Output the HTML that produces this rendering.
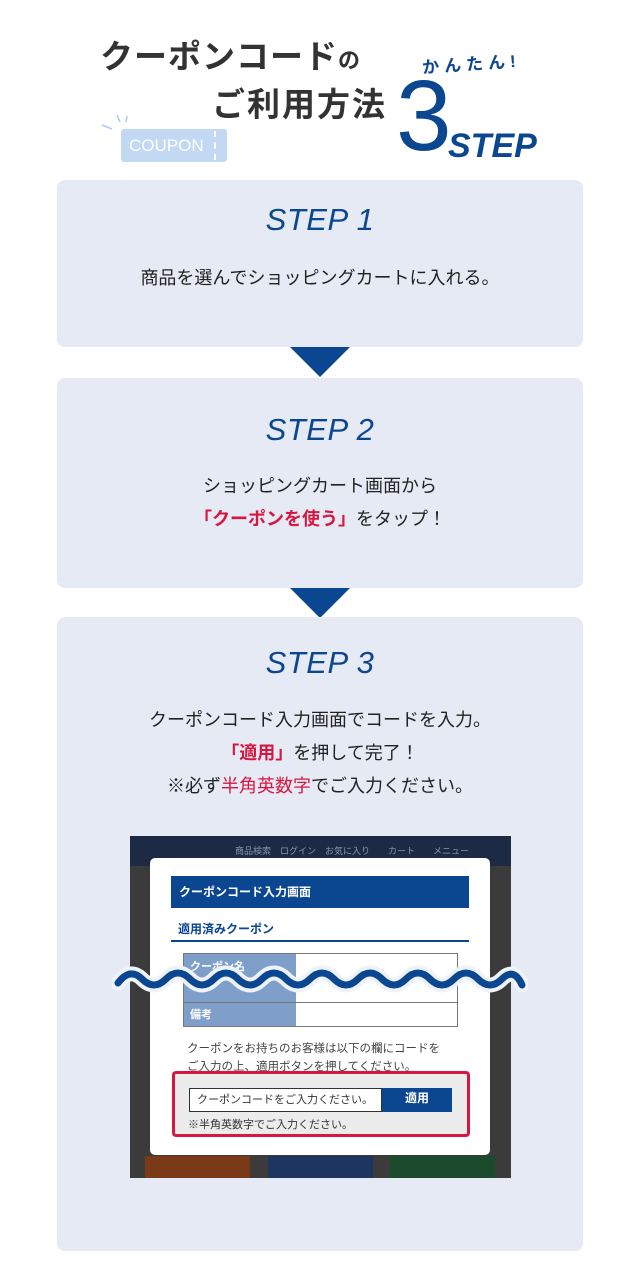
<!DOCTYPE html>
<html><head><meta charset="utf-8"><style>
*{margin:0;padding:0;box-sizing:border-box}
body{width:640px;height:1280px;background:#fff;position:relative;overflow:hidden;font-family:"Liberation Sans","Noto Sans CJK JP",sans-serif;color:#222}
.abs{position:absolute}
.card{position:absolute;left:57px;width:526px;background:#e5eaf4;border-radius:8px}
.step{position:absolute;left:0;width:100%;text-align:center;font-style:italic;color:#0b4691;font-size:31px;letter-spacing:0.5px}
.txt{position:absolute;left:0;width:100%;text-align:center;font-size:18px;line-height:33px;color:#222}
.red{color:#d9163f;font-weight:bold}
.tri{position:absolute;left:290px;width:0;height:0;border-left:30px solid transparent;border-right:30px solid transparent;border-top:30px solid #0b4691}
</style></head><body>
<div class="abs" style="left:100px;top:30px;font-size:33px;font-weight:bold;color:#333;letter-spacing:1px">クーポンコード<span style="font-size:22px">の</span></div>
<div class="abs" style="left:212px;top:78px;font-size:33px;font-weight:bold;color:#333;letter-spacing:2px">ご利用方法</div>
<div class="abs" style="left:422px;top:50px;font-size:17px;font-weight:bold;color:#0b4691;letter-spacing:5px;transform:rotate(-4deg)">かんたん!</div>
<div class="abs" style="left:396px;top:66px;font-size:100px;color:#0b4691;line-height:100px;font-weight:500">3</div>
<div class="abs" style="left:448px;top:127px;font-size:34px;color:#0b4691;font-weight:bold;font-style:italic">STEP</div>
<div class="abs" style="left:121px;top:129px;width:106px;height:33px;background:#c3d8f2;border-radius:3px;color:#fff;font-size:17px;line-height:33px;padding-left:8px">COUPON</div>
<div class="abs" style="left:214px;top:131px;height:29px;border-left:2px dashed #fff"></div>
<svg class="abs" style="left:100px;top:112px" width="30" height="30"><g stroke="#a9c9ee" stroke-width="1.5"><line x1="2" y1="13" x2="12" y2="17"/><line x1="17" y1="3" x2="20" y2="10"/><line x1="27" y1="4" x2="26" y2="10"/></g></svg>

<div class="card" style="top:180px;height:167px">
<div class="step" style="top:22px">STEP 1</div>
<div class="txt" style="top:82px">商品を選んでショッピングカートに入れる。</div>
</div>
<div class="tri" style="top:347px"></div>
<div class="card" style="top:378px;height:210px">
<div class="step" style="top:34px">STEP 2</div>
<div class="txt" style="top:92px">ショッピングカート画面から<br><span class="red">「クーポンを使う」</span>をタップ！</div>
</div>
<div class="tri" style="top:588px"></div>
<div class="card" style="top:617px;height:634px">
<div class="step" style="top:28px">STEP 3</div>
<div class="txt" style="top:87px">クーポンコード入力画面でコードを入力。<br><span class="red">「適用」</span>を押して完了！<br>※必ず<span style="color:#d9163f">半角英数字</span>でご入力ください。</div>
</div>

<div class="abs" style="left:130px;top:836px;width:381px;height:342px;background:#3b3b3b;overflow:hidden">
<div class="abs" style="left:0;top:0;width:381px;height:30px;background:#1d2a44"></div>
<div class="abs" style="left:105px;top:8px;font-size:9px;color:#8895ad;word-spacing:8px;white-space:nowrap">商品検索　ログイン　お気に入り　　カート　　メニュー</div>
<div class="abs" style="left:15px;top:320px;width:105px;height:22px;background:#7a3a18"></div>
<div class="abs" style="left:138px;top:320px;width:105px;height:22px;background:#1d3560"></div>
<div class="abs" style="left:260px;top:320px;width:105px;height:22px;background:#1c4a2c"></div>
<div class="abs" style="left:20px;top:22px;width:340px;height:297px;background:#fff;border-radius:5px">
<div class="abs" style="left:21px;top:18px;width:298px;height:32px;background:#0b4691;color:#fff;font-size:12px;font-weight:bold;line-height:32px;padding-left:8px">クーポンコード入力画面</div>
<div class="abs" style="left:28px;top:62px;font-size:12px;font-weight:bold;color:#0b4691">適用済みクーポン</div>
<div class="abs" style="left:21px;top:82px;width:298px;height:2px;background:#0b4691"></div>
<div class="abs" style="left:33px;top:95px;width:275px;height:74px;border:1px solid #777;background:#fff"></div>
<div class="abs" style="left:34px;top:96px;width:112px;height:72px;background:#7e9fc9"></div>
<div class="abs" style="left:34px;top:144px;width:274px;height:1px;background:#777"></div>
<div class="abs" style="left:40px;top:148px;font-size:11px;color:#fff;font-weight:bold">備考</div>
<div class="abs" style="left:40px;top:100px;font-size:11px;color:#fff;font-weight:bold">クーポン名</div>
<div class="abs" style="left:37px;top:182px;font-size:11.5px;color:#444;line-height:18px">クーポンをお持ちのお客様は以下の欄にコードを<br>ご入力の上、適用ボタンを押してください。</div>
<div class="abs" style="left:22px;top:213px;width:298px;height:66px;background:#ececec;border:3px solid #d9163f;border-radius:4px"></div>
<div class="abs" style="left:39px;top:230px;width:193px;height:24px;border:1px solid #333;background:#fff;font-size:11px;line-height:22px;padding-left:7px;color:#333;white-space:nowrap">クーポンコードをご入力ください。</div>
<div class="abs" style="left:232px;top:230px;width:70px;height:24px;background:#0b4691;color:#fff;font-size:12px;font-weight:bold;text-align:center;line-height:20px">適用</div>
<div class="abs" style="left:38px;top:258px;font-size:11px;color:#333">※半角英数字でご入力ください。</div>
</div>
</div>
<svg class="abs" style="left:112px;top:955px" width="416" height="50" viewBox="0 0 416 50">
<g fill="none" stroke-linecap="round">
<path id="w" d="M6 28 Q 18 12 30 24 Q 42 36 54 24 Q 66 12 78 24 Q 90 36 102 24 Q 114 12 126 24 Q 138 36 150 24 Q 162 12 174 24 Q 186 36 198 24 Q 210 12 222 24 Q 234 36 246 24 Q 258 12 270 24 Q 282 36 294 24 Q 306 12 318 24 Q 330 36 342 24 Q 354 12 366 24 Q 378 36 390 24 Q 402 12 410 30" stroke="#eef2f9" stroke-width="15"/>
<path d="M6 28 Q 18 12 30 24 Q 42 36 54 24 Q 66 12 78 24 Q 90 36 102 24 Q 114 12 126 24 Q 138 36 150 24 Q 162 12 174 24 Q 186 36 198 24 Q 210 12 222 24 Q 234 36 246 24 Q 258 12 270 24 Q 282 36 294 24 Q 306 12 318 24 Q 330 36 342 24 Q 354 12 366 24 Q 378 36 390 24 Q 402 12 410 30" stroke="#0b4691" stroke-width="7"/>
</g>
</svg>
</body></html>
